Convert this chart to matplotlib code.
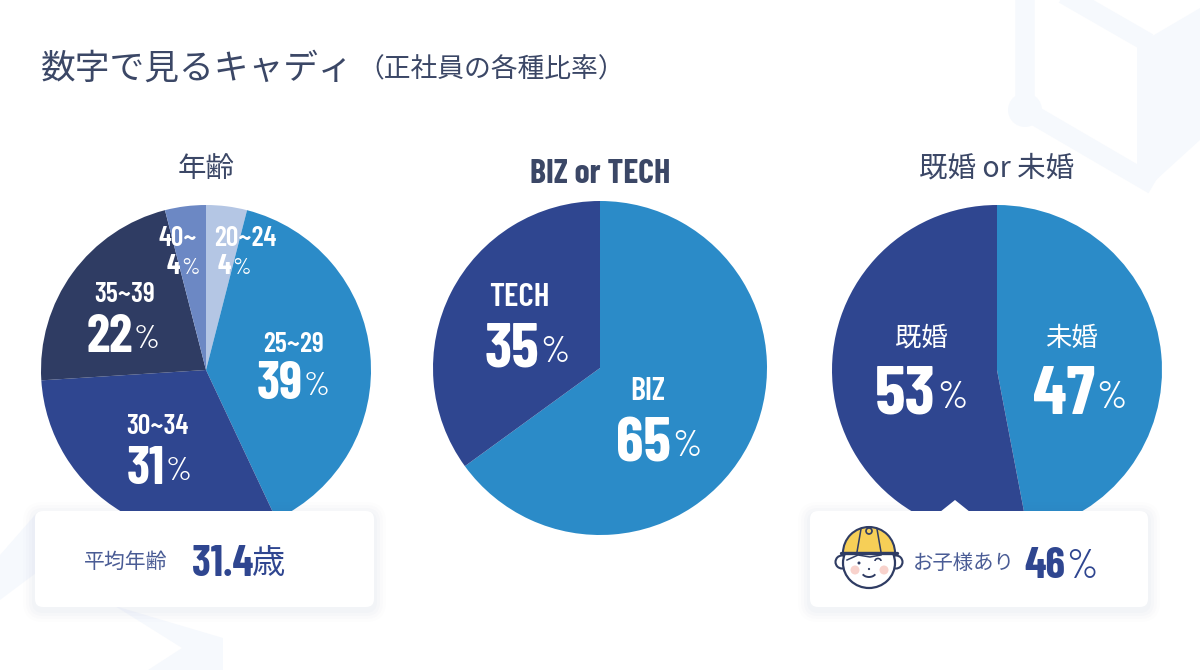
import matplotlib
matplotlib.use("Agg")
import matplotlib.pyplot as plt
from matplotlib.patches import FancyBboxPatch, Polygon, Circle, Ellipse, Wedge, Arc

# Chart values
age_labels = ["20~24", "25~29", "30~34", "35~39", "40~"]
age_values = [4, 39, 31, 22, 4]
role_labels = ["BIZ", "TECH"]
role_values = [65, 35]
marital_labels = ["未婚", "既婚"]
marital_values = [47, 53]
avg_age = "31.4"
children_share = 46

W, H = 1200, 670
INK = "#3b4766"
NAVY = "#2f4690"
BLUE = "#2b8bc8"
age_colors = ["#b4c6e4", BLUE, NAVY, "#2f3c63", "#6c88c4"]
role_colors = [BLUE, NAVY]
marital_colors = [BLUE, NAVY]

JP = ["Noto Sans CJK JP", "DejaVu Sans"]
NUM = ["Barlow Condensed", "Roboto", "DejaVu Sans"]
plt.rcParams["font.family"] = JP

fig = plt.figure(figsize=(W / 100, H / 100), dpi=100, facecolor="white")


def pixel_axes(zorder):
    ax = fig.add_axes([0, 0, 1, 1], zorder=zorder)
    ax.set_xlim(0, W)
    ax.set_ylim(H, 0)
    ax.axis("off")
    ax.patch.set_alpha(0)
    return ax


def draw_pie(values, colors, cx, cy, r):
    ax = fig.add_axes([(cx - r) / W, 1 - (cy + r) / H, 2 * r / W, 2 * r / H], zorder=1)
    ax.pie(values, colors=colors, startangle=90, counterclock=False, radius=1,
           wedgeprops={"linewidth": 0})
    ax.set_xlim(-1, 1)
    ax.set_ylim(-1, 1)


def share(ax, value, x_split, y, num_size, pct_size, color="white"):
    ax.text(x_split, y, str(value), family=NUM, weight="bold", fontsize=num_size,
            color=color, ha="right", va="center")
    ax.text(x_split + 1, y + 2, "%", family=NUM, weight="normal", fontsize=pct_size,
            color=color, ha="left", va="center")


def card(ax, x0, y0, x1, y1):
    for grow, alpha in [(12, 0.012), (9, 0.015), (6, 0.018), (3, 0.02)]:
        ax.add_patch(FancyBboxPatch((x0 - grow, y0 - grow + 3), x1 - x0 + 2 * grow, y1 - y0 + 2 * grow,
                                    boxstyle="round,pad=0,rounding_size=%d" % (8 + grow),
                                    fc="#5a6fa8", ec="none", alpha=alpha))
    ax.add_patch(FancyBboxPatch((x0, y0), x1 - x0, y1 - y0, boxstyle="round,pad=0,rounding_size=8",
                                fc="white", ec="none"))


# faint background shapes
bg = pixel_axes(0)
PALE = "#f6f9fd"
bg.plot([1025, 1025, 1145], [-5, 110, 180], color=PALE, lw=14, solid_joinstyle="round")
bg.plot([1060, 1140], [-8, 38], color=PALE, lw=14)
bg.add_patch(Polygon([(1137, 45), (1200, 8), (1200, 140), (1145, 190), (1137, 180)], fc=PALE, ec="none"))
bg.add_patch(Circle((1025, 110), 17, fc=PALE, ec="none"))
bg.add_patch(Polygon([(0, 555), (35, 515), (40, 570), (0, 600)], fc=PALE, ec="none"))
bg.add_patch(Polygon([(115, 606), (223, 638), (223, 670), (148, 670), (182, 648)], fc=PALE, ec="none"))

draw_pie(age_values, age_colors, 206, 370, 165)
draw_pie(role_values, role_colors, 600, 368, 167)
draw_pie(marital_values, marital_colors, 997, 370, 165)

top = pixel_axes(2)

# title
top.text(41, 69, "数字で見るキャディ", fontsize=25, color=INK, ha="left", va="center")
top.text(357, 70, "（正社員の各種比率）", fontsize=19.3, color=INK, ha="left", va="center")

# panel headings
top.text(206, 169, "年齢", fontsize=20.5, color=INK, ha="center", va="center")
top.text(600, 174, "BIZ or TECH", family=NUM, weight="bold", fontsize=24.5, color=INK, ha="center", va="center")
top.text(997, 169, "既婚 or 未婚", fontsize=20.5, color=INK, ha="center", va="center")

# age pie labels
small_pos = [(245, 238), (293, 344), (157, 427), (125, 295), (178, 239)]
split_pos = [(231, 267), (303, 385), (165, 470), (133, 338), (180, 267)]
num_sizes = [20, 38, 38, 38, 20]
pct_sizes = [17, 24, 24, 24, 17]
for lab, val, lp, sp, ns, ps in zip(age_labels, age_values, small_pos, split_pos, num_sizes, pct_sizes):
    top.text(lp[0], lp[1], lab, family=NUM, weight="semibold", fontsize=20, color="white", ha="center", va="center")
    share(top, val, sp[0], sp[1], ns, ps)

# role pie labels
top.text(648, 391, role_labels[0], family=NUM, weight="semibold", fontsize=23, color="white", ha="center", va="center")
share(top, role_values[0], 671, 445, 45, 27)
top.text(519, 298, role_labels[1], family=NUM, weight="semibold", fontsize=24, color="white", ha="center", va="center")
share(top, role_values[1], 539, 350, 45, 27)

# marital pie labels
top.text(1071, 338, marital_labels[0], fontsize=19, color="white", ha="center", va="center")
share(top, marital_values[0], 1095, 396, 50, 28)
top.text(921, 338, marital_labels[1], fontsize=19, color="white", ha="center", va="center")
share(top, marital_values[1], 936, 396, 50, 28)

# average age card
card(top, 35, 511, 374, 607)
top.text(84, 562, "平均年齢", fontsize=15, color="#4a5c95", ha="left", va="center")
top.text(192, 564, avg_age, family=NUM, weight="bold", fontsize=31, color=NAVY, ha="left", va="center")
top.text(252, 564, "歳", fontsize=24, color=NAVY, ha="left", va="center")

# children card with the notch pointing at the pie
card(top, 810, 511, 1148, 607)
top.add_patch(Polygon([(940, 512), (955, 500), (970, 512)], fc="white", ec="none"))
top.text(913, 563, "お子様あり", fontsize=14.7, color="#4a5c95", ha="left", va="center")
share(top, children_share, 1065, 566, 32, 29, color=NAVY)

# child icon
LINE = "#2f3c63"
top.add_patch(Circle((842, 562), 6.5, fc="white", ec=LINE, lw=1.5))
top.add_patch(Circle((896, 562), 6.5, fc="white", ec=LINE, lw=1.5))
top.add_patch(Ellipse((869, 563), 52, 50, fc="white", ec=LINE, lw=1.6))
top.add_patch(Wedge((869, 553), 26, 180, 360, fc="#f6cf57", ec=LINE, lw=1.5))
top.add_patch(Circle((869, 531), 3, fc="#f6cf57", ec=LINE, lw=1.2))
top.plot([841, 897], [553, 553], color=LINE, lw=2.4, solid_capstyle="round")
top.plot([861, 857], [529, 552], color=LINE, lw=1.1)
top.plot([877, 881], [529, 552], color=LINE, lw=1.1)
top.plot([847, 858, 870, 881], [560, 555, 557, 555], color=LINE, lw=1.1)
top.add_patch(Circle((855, 570), 4.5, fc="#f8d2cc", ec="none"))
top.add_patch(Circle((884, 570), 4.5, fc="#f8d2cc", ec="none"))
top.add_patch(Circle((859, 563), 1.5, fc=LINE, ec="none"))
top.add_patch(Arc((878, 561), 6, 5, theta1=180, theta2=360, color=LINE, lw=1.2))
top.add_patch(Circle((869, 569), 1.1, fc=LINE, ec="none"))
top.add_patch(Arc((869, 572), 14, 10, theta1=20, theta2=160, color=LINE, lw=1.4))

fig.savefig("out.png", dpi=100)
